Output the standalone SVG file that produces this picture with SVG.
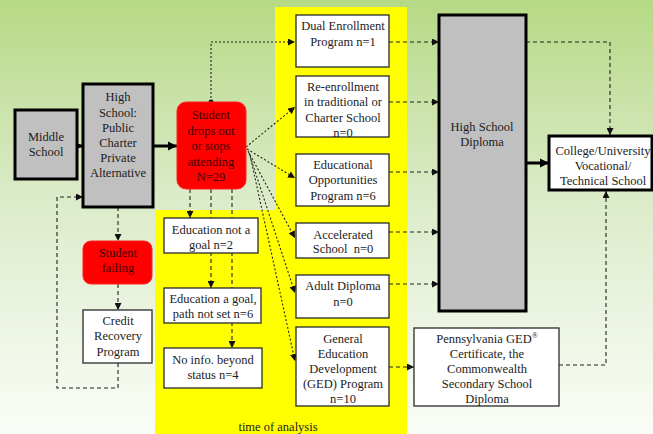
<svg xmlns="http://www.w3.org/2000/svg" width="653" height="434" viewBox="0 0 653 434" font-family="'Liberation Serif', 'Times New Roman', serif">
<defs>
<linearGradient id="bg" x1="0" y1="0" x2="0" y2="1">
<stop offset="0" stop-color="#b6d985"/>
<stop offset="0.45" stop-color="#dbebc8"/>
<stop offset="1" stop-color="#fbfdf8"/>
</linearGradient>
<marker id="ah" markerUnits="userSpaceOnUse" markerWidth="8" markerHeight="7" refX="7" refY="3.5" orient="auto">
<path d="M0,0 L7,3.5 L0,7 z" fill="#111"/>
</marker>
<marker id="ahb" markerUnits="userSpaceOnUse" markerWidth="10" markerHeight="10" refX="9" refY="5" orient="auto">
<path d="M0,0.5 L9,5 L0,9.5 z" fill="#000"/>
</marker>
<marker id="dot" markerUnits="userSpaceOnUse" markerWidth="6" markerHeight="6" refX="3" refY="3">
<circle cx="3" cy="3" r="2.5" fill="#111"/>
</marker>
</defs>
<style>
text{font-family:'Liberation Serif','Times New Roman',serif;font-size:12.5px;fill:#1c1c1c;text-anchor:middle}
.thick{fill:#c0c0c0;stroke:#000;stroke-width:3}
.thickw{fill:#fff;stroke:#000;stroke-width:3}
.box{fill:#fff;stroke:#2a2a2a;stroke-width:1.3}
.red{fill:#ff0000;stroke:#ff2020;stroke-width:1}
.redt{fill:#3d0000}
.dash{fill:none;stroke:#222;stroke-width:1.1;stroke-dasharray:4,3}
.dots{fill:none;stroke:#222;stroke-width:1.1;stroke-dasharray:2,2}
.bold{fill:none;stroke:#000;stroke-width:3}
</style>
<rect x="0" y="0" width="653" height="434" fill="url(#bg)"/>
<rect x="275" y="7" width="132" height="427" fill="#ffff00"/>
<rect x="155" y="210" width="252" height="224" fill="#ffff00"/>

<g id="connectors">
<path class="bold" d="M77,146 H83" marker-end="url(#ahb)"/>
<path class="bold" d="M153,146 H177" marker-end="url(#ahb)"/>
<path class="bold" d="M526,163 H549" marker-end="url(#ahb)"/>
<path class="dots" d="M211,102 V42 H295" marker-start="url(#dot)" marker-end="url(#ah)"/>
<path class="dots" d="M246,147 L295,107" marker-end="url(#ah)"/>
<path class="dots" d="M247,149 L295,178" marker-end="url(#ah)"/>
<path class="dots" d="M248,151 L295,238" marker-end="url(#ah)"/>
<path class="dots" d="M249,153 L295,293" marker-end="url(#ah)"/>
<path class="dots" d="M250,155 L295,361" marker-end="url(#ah)"/>
<path class="dash" d="M190,189 V218" marker-end="url(#ah)"/>
<path class="dash" d="M211,189 V288" marker-end="url(#ah)"/>
<path class="dash" d="M232,189 V348" marker-end="url(#ah)"/>
<path class="dash" d="M389,42 H439" marker-end="url(#ah)"/>
<path class="dash" d="M389,102 H439" marker-end="url(#ah)"/>
<path class="dash" d="M389,172 H439" marker-end="url(#ah)"/>
<path class="dash" d="M389,232 H439" marker-end="url(#ah)"/>
<path class="dash" d="M389,284 H439" marker-end="url(#ah)"/>
<path class="dash" d="M389,367 H414" marker-end="url(#ah)"/>
<path class="dash" d="M526,42 H610 V135" marker-end="url(#ah)"/>
<path class="dash" d="M559,365 H606 V191" marker-end="url(#ah)"/>
<path class="dash" d="M118,207 V241" marker-end="url(#ah)"/>
<path class="dash" d="M118,284 V310" marker-end="url(#ah)"/>
<path class="dash" d="M118,363 V388 H57 V197 H83" marker-end="url(#ah)"/>
</g>

<g id="middle-school">
<rect class="thick" x="15" y="110" width="62" height="69"/>
<text x="46" y="141">Middle</text>
<text x="46" y="156">School</text>
</g>
<g id="high-school">
<rect class="thick" x="83" y="84" width="70" height="123"/>
<text x="118" y="101">High</text>
<text x="118" y="117">School:</text>
<text x="118" y="132">Public</text>
<text x="118" y="147">Charter</text>
<text x="118" y="162">Private</text>
<text x="118" y="177">Alternative</text>
</g>
<g id="student-drops-out">
<rect class="red" x="177" y="102" width="69" height="87" rx="9"/>
<text class="redt" x="211" y="119">Student</text>
<text class="redt" x="211" y="134.5">drops out</text>
<text class="redt" x="211" y="150">or stops</text>
<text class="redt" x="211" y="165.5">attending</text>
<text class="redt" x="211" y="181">N=29</text>
</g>
<g id="student-failing">
<rect class="red" x="83" y="241" width="69" height="43" rx="8"/>
<text class="redt" x="118" y="257">Student</text>
<text class="redt" x="118" y="272">failing</text>
</g>
<g id="credit-recovery">
<rect class="box" x="83" y="310" width="69" height="53"/>
<text x="118" y="325">Credit</text>
<text x="118" y="340">Recovery</text>
<text x="118" y="356">Program</text>
</g>
<g id="education-not-goal">
<rect class="box" x="164" y="218" width="94" height="35"/>
<text x="211" y="234">Education not a</text>
<text x="211" y="249">goal n=2</text>
</g>
<g id="education-goal">
<rect class="box" x="164" y="288" width="97" height="35"/>
<text x="213" y="303">Education a goal,</text>
<text x="213" y="318">path not set n=6</text>
</g>
<g id="no-info">
<rect class="box" x="164" y="348" width="98" height="40"/>
<text x="213" y="364">No info. beyond</text>
<text x="213" y="379">status n=4</text>
</g>
<g id="dual-enrollment">
<rect class="box" x="296" y="15" width="93" height="52"/>
<text x="343" y="30">Dual Enrollment</text>
<text x="343" y="46">Program n=1</text>
</g>
<g id="re-enrollment">
<rect class="box" x="296" y="76" width="93" height="61"/>
<text x="343" y="91">Re-enrollment</text>
<text x="343" y="106">in traditional or</text>
<text x="343" y="122">Charter School</text>
<text x="343" y="137">n=0</text>
</g>
<g id="educational-opportunities">
<rect class="box" x="296" y="154" width="93" height="52"/>
<text x="343" y="169">Educational</text>
<text x="343" y="184">Opportunities</text>
<text x="343" y="200">Program n=6</text>
</g>
<g id="accelerated">
<rect class="box" x="296" y="223" width="93" height="35"/>
<text x="343" y="239">Accelerated</text>
<text x="343" y="253" xml:space="preserve">School  n=0</text>
</g>
<g id="adult-diploma">
<rect class="box" x="296" y="275" width="93" height="43"/>
<text x="343" y="290">Adult Diploma</text>
<text x="343" y="306">n=0</text>
</g>
<g id="ged-program">
<rect class="box" x="296" y="327" width="93" height="79"/>
<text x="343" y="343">General</text>
<text x="343" y="358">Education</text>
<text x="343" y="373">Development</text>
<text x="343" y="388">(GED) Program</text>
<text x="343" y="403">n=10</text>
</g>
<g id="hs-diploma">
<rect class="thick" x="439" y="15" width="87" height="296"/>
<text x="482" y="131">High School</text>
<text x="482" y="146">Diploma</text>
</g>
<g id="college">
<rect class="thickw" x="549" y="136" width="103" height="54"/>
<text x="603" y="155">College/University</text>
<text x="603" y="170">Vocational/</text>
<text x="603" y="185">Technical School</text>
</g>
<g id="pennsylvania-ged">
<rect class="box" x="414" y="328" width="145" height="78"/>
<text x="487" y="343">Pennsylvania GED<tspan font-size="8" dy="-5">®</tspan></text>
<text x="487" y="358">Certificate, the</text>
<text x="487" y="373">Commonwealth</text>
<text x="487" y="388">Secondary School</text>
<text x="487" y="403">Diploma</text>
</g>
<text x="278" y="431" font-size="12">time of analysis</text>
</svg>
